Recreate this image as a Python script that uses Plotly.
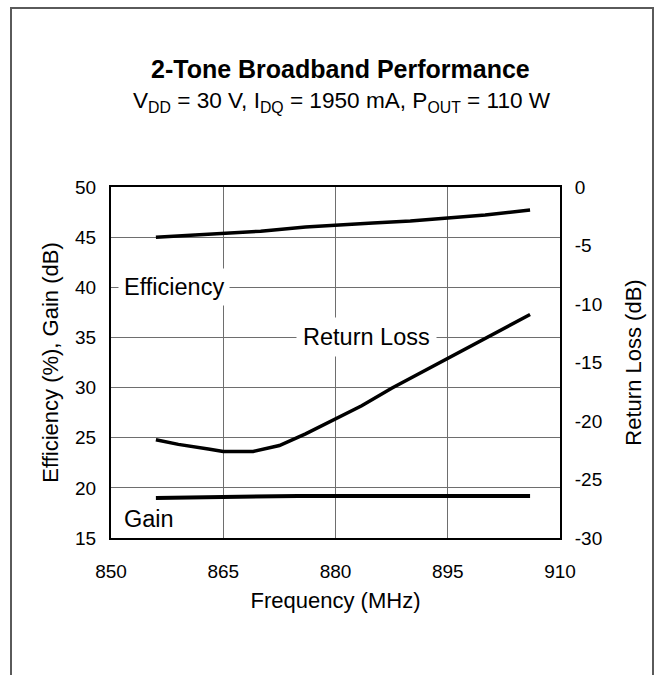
import plotly.graph_objects as go

# ---- data ----
eff_freq = [856, 865, 870, 876, 880, 885, 890, 895, 900, 906]
efficiency = [45.0, 45.4, 45.6, 46.0, 46.2, 46.4, 46.6, 46.9, 47.2, 47.7]

gain_freq = [856, 860, 865, 869, 875, 880, 885, 890, 895, 900, 906]
gain = [19.0, 19.05, 19.15, 19.2, 19.2, 19.2, 19.2, 19.2, 19.2, 19.2, 19.2]

rl_freq = [856, 859, 863, 865, 869, 872.5, 876, 880, 883.5, 887.5, 891, 894.5, 900, 906]
return_loss = [-21.6, -22.0, -22.4, -22.6, -22.6, -22.1, -21.1, -19.8, -18.7, -17.2, -16.0, -14.8, -12.9, -10.9]

x_ticks = [850, 865, 880, 895, 910]
y_left_ticks = [15, 20, 25, 30, 35, 40, 45, 50]
y_right_ticks = [-30, -25, -20, -15, -10, -5, 0]
y_right_labels = ["-30", "-25", "-20", "-15", "-10", "-5", "0"]

FONT = "Liberation Sans, Arial, Helvetica, sans-serif"

# plot area in pixels: x 111..560, y 187..538
L, R, T, B = 111, 560, 187, 538
W, H = 663, 675
PW, PH = R - L, B - T


def px_x(x):
    return (x - L) / PW


def px_y(y):
    return (B - y) / PH


fig = go.Figure()
fig.add_trace(go.Scatter(x=eff_freq, y=efficiency, mode="lines", name="Efficiency",
                         line=dict(color="black", width=3.5), yaxis="y"))
fig.add_trace(go.Scatter(x=gain_freq, y=gain, mode="lines", name="Gain",
                         line=dict(color="black", width=4), yaxis="y"))
fig.add_trace(go.Scatter(x=rl_freq, y=return_loss, mode="lines", name="Return Loss",
                         line=dict(color="black", width=3.5), yaxis="y2"))

fig.update_layout(
    width=W, height=H,
    margin=dict(l=L, r=W - R, t=T, b=H - B, autoexpand=False),
    paper_bgcolor="white", plot_bgcolor="white",
    showlegend=False,
    font=dict(family=FONT, color="black", size=19),
    xaxis=dict(range=[850, 910], tickvals=x_ticks, showgrid=True, gridcolor="#6e6e6e",
               gridwidth=1, showline=True, linecolor="black", linewidth=2, mirror=True,
               ticks="", ticklabelstandoff=15, zeroline=False,
               tickfont=dict(size=19),
               title=dict(text="Frequency (MHz)", font=dict(size=22), standoff=12)),
    yaxis=dict(range=[15, 50], tickvals=y_left_ticks, showgrid=True, gridcolor="#6e6e6e",
               gridwidth=1, showline=True, linecolor="black", linewidth=2, mirror=True,
               ticks="", ticklabelstandoff=9, zeroline=False,
               tickfont=dict(size=19),
               title=dict(text="Efficiency (%), Gain (dB)", font=dict(size=22), standoff=10)),
    yaxis2=dict(range=[-30, 0], tickvals=y_right_ticks, ticktext=y_right_labels,
                overlaying="y", side="right",
                showgrid=False, showline=True, linecolor="black", linewidth=2,
                ticks="", ticklabelstandoff=9, zeroline=False,
                tickfont=dict(size=19),
                title=dict(text="Return Loss (dB)", font=dict(size=22), standoff=24)),
)

# outer frame (open at the bottom edge of the picture)
fig.add_shape(type="rect", xref="paper", yref="paper",
              x0=px_x(11), x1=px_x(653), y0=px_y(700), y1=px_y(8),
              line=dict(color="#5a5a5a", width=2), fillcolor="rgba(0,0,0,0)", layer="below")

# series labels with white background (covering the grid)
fig.add_annotation(x=858.4, y=40, xref="x", yref="y", text="Efficiency", showarrow=False,
                   font=dict(size=23.5), bgcolor="white", borderpad=5)
fig.add_annotation(x=884.2, y=35, xref="x", yref="y", text="Return Loss", showarrow=False,
                   font=dict(size=23.5), bgcolor="white", borderpad=6)
fig.add_annotation(x=855.1, y=16.9, xref="x", yref="y", text="Gain", showarrow=False,
                   font=dict(size=23.5), bgcolor="white", borderpad=2)

# title block
fig.add_annotation(x=px_x(340), y=px_y(69), xref="paper", yref="paper", yanchor="middle",
                   text="<b>2-Tone Broadband Performance</b>", showarrow=False,
                   font=dict(size=25))
fig.add_annotation(x=px_x(342), y=px_y(102), xref="paper", yref="paper", yanchor="middle",
                   text="V<sub>DD</sub> = 30 V, I<sub>DQ</sub> = 1950 mA, P<sub>OUT</sub> = 110 W",
                   showarrow=False, font=dict(size=22.6))

fig.write_html("out.html", config={"displayModeBar": False},
               post_script="document.body.style.margin='0';")
